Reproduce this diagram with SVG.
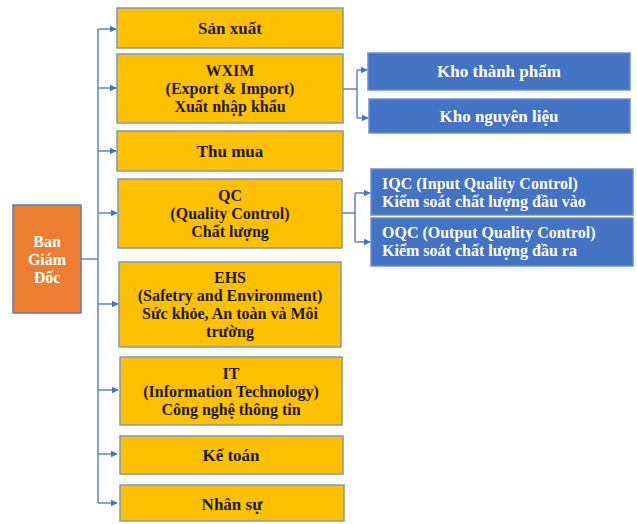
<svg xmlns="http://www.w3.org/2000/svg" width="637" height="524" viewBox="0 0 637 524">
<defs>
<style>
.y{fill:#FFC000;stroke:#8497B0;stroke-width:1.5}
.b{fill:#4472C4;stroke:#6A8FD0;stroke-width:1.5}
.o{fill:#ED7D31;stroke:#5A7DB0;stroke-width:1.5}
text{font-family:"Liberation Serif","Times New Roman",serif;font-weight:bold;font-size:17px}
.m{font-size:16px}
.tk{fill:#1a1a1a;text-anchor:middle}
.tw{fill:#fff;text-anchor:middle}
.tl{fill:#fff;text-anchor:start}
.c{fill:none;stroke:#5B84D0;stroke-width:1.5}
</style>
<marker id="ar" viewBox="0 0 10 10" refX="9" refY="5" markerWidth="7" markerHeight="7" orient="auto" markerUnits="userSpaceOnUse">
<path d="M0,0 L10,5 L0,10 z" fill="#4472C4"/>
</marker>
</defs>
<rect width="637" height="524" fill="#fff"/>
<g id="connectors">
<path class="c" d="M81,259 H98"/>
<path class="c" d="M98,29 V503"/>
<path class="c" d="M98,29 H116" marker-end="url(#ar)"/>
<path class="c" d="M98,88 H116" marker-end="url(#ar)"/>
<path class="c" d="M98,151 H116" marker-end="url(#ar)"/>
<path class="c" d="M98,213 H117" marker-end="url(#ar)"/>
<path class="c" d="M98,304 H118" marker-end="url(#ar)"/>
<path class="c" d="M98,390 H118" marker-end="url(#ar)"/>
<path class="c" d="M98,454 H117" marker-end="url(#ar)"/>
<path class="c" d="M98,503 H117" marker-end="url(#ar)"/>
<path class="c" d="M343,89 H357 M357,70 V118"/>
<path class="c" d="M357,70 H367" marker-end="url(#ar)"/>
<path class="c" d="M357,118 H368" marker-end="url(#ar)"/>
<path class="c" d="M342,213 H355 M355,193 V242"/>
<path class="c" d="M355,193 H370" marker-end="url(#ar)"/>
<path class="c" d="M355,242 H370" marker-end="url(#ar)"/>
</g>
<g id="ban-giam-doc">
<rect class="o" x="13" y="205" width="68" height="108"/>
<text class="tw m" x="47" y="247">Ban</text>
<text class="tw m" x="47" y="265">Giám</text>
<text class="tw m" x="47" y="283">Đốc</text>
</g>
<g id="san-xuat">
<rect class="y" x="117" y="8" width="226" height="40"/>
<text class="tk" x="230" y="34">Sản xuất</text>
</g>
<g id="wxim">
<rect class="y" x="117" y="54" width="226" height="69"/>
<text class="tk m" x="230" y="76">WXIM</text>
<text class="tk m" x="230" y="94">(Export &amp; Import)</text>
<text class="tk m" x="230" y="112">Xuất nhập khẩu</text>
</g>
<g id="thu-mua">
<rect class="y" x="117" y="131" width="226" height="40"/>
<text class="tk" x="230" y="157">Thu mua</text>
</g>
<g id="qc">
<rect class="y" x="118" y="179" width="224" height="69"/>
<text class="tk m" x="230" y="201">QC</text>
<text class="tk m" x="230" y="219">(Quality Control)</text>
<text class="tk m" x="230" y="237">Chất lượng</text>
</g>
<g id="ehs">
<rect class="y" x="119" y="262" width="222" height="85"/>
<text class="tk m" x="230" y="283">EHS</text>
<text class="tk m" x="230" y="301">(Safetry and Environment)</text>
<text class="tk m" x="230" y="319">Sức khỏe, An toàn và Môi</text>
<text class="tk m" x="230" y="337">trường</text>
</g>
<g id="it">
<rect class="y" x="120" y="357" width="222" height="68"/>
<text class="tk m" x="231" y="379">IT</text>
<text class="tk m" x="231" y="397">(Information Technology)</text>
<text class="tk m" x="231" y="415">Công nghệ thông tin</text>
</g>
<g id="ke-toan">
<rect class="y" x="120" y="436" width="223" height="38"/>
<text class="tk" x="231" y="461">Kế toán</text>
</g>
<g id="nhan-su">
<rect class="y" x="120" y="485" width="224" height="36"/>
<text class="tk" x="232" y="510">Nhân sự</text>
</g>
<g id="kho-thanh-pham">
<rect class="b" x="368" y="53" width="262" height="37"/>
<text class="tw" x="499" y="77">Kho thành phẩm</text>
</g>
<g id="kho-nguyen-lieu">
<rect class="b" x="369" y="99" width="261" height="34"/>
<text class="tw" x="499" y="122">Kho nguyên liệu</text>
</g>
<g id="iqc">
<rect class="b" x="371" y="169" width="262" height="46"/>
<text class="tl m" x="382" y="189">IQC (Input Quality Control)</text>
<text class="tl m" x="382" y="207">Kiểm soát chất lượng đầu vào</text>
</g>
<g id="oqc">
<rect class="b" x="371" y="218" width="262" height="48"/>
<text class="tl m" x="382" y="238">OQC (Output Quality Control)</text>
<text class="tl m" x="382" y="256">Kiểm soát chất lượng đầu ra</text>
</g>
</svg>
